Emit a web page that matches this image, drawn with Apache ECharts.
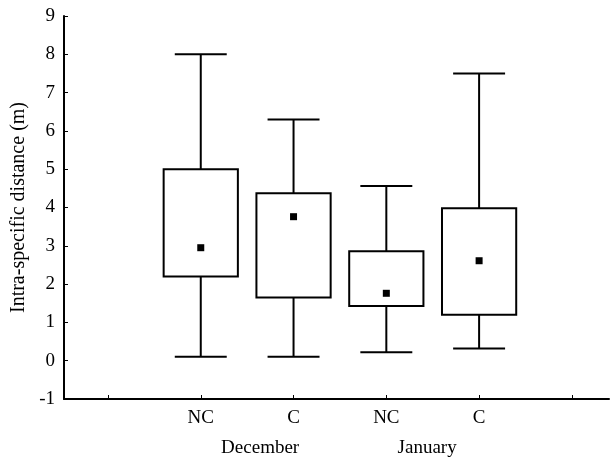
<!DOCTYPE html>
<html>
<head>
    <meta charset="utf-8">
    <title>Intra-specific distance</title>
    <script src="https://cdn.jsdelivr.net/npm/echarts@6/dist/echarts.min.js"></script>
    <style>
        html, body { margin: 0; padding: 0; background: #fff; }
        #chart { width: 611px; height: 464px; }
    </style>
</head>
<body>
<div id="chart"></div>
<script>
    // groups, left to right
    var groups = ['NC', 'C', 'NC', 'C'];
    var groupPos = [2, 3, 4, 5];
    var months = ['December', 'January'];
    var monthPos = [2.64, 4.44];
    var yTicks = [-1, 0, 1, 2, 3, 4, 5, 6, 7, 8, 9];

    // box values
    var whiskerLow = [0.1, 0.1, 0.22, 0.32];
    var boxLow = [2.2, 1.65, 1.43, 1.2];
    var boxHigh = [5.0, 4.37, 2.86, 3.98];
    var whiskerHigh = [8.0, 6.3, 4.56, 7.5];
    var means = [2.95, 3.76, 1.76, 2.61];

    var font = '"Liberation Serif", "Times New Roman", serif';

    var boxData = groupPos.map(function (x, i) {
        return [x, whiskerLow[i], boxLow[i], boxHigh[i], whiskerHigh[i]];
    });
    var meanData = groupPos.map(function (x, i) {
        return [x, means[i]];
    });

    function renderBox(params, api) {
        var x = api.value(0);
        var pLow = api.coord([x, api.value(1)]);
        var pQ1 = api.coord([x, api.value(2)]);
        var pQ3 = api.coord([x, api.value(3)]);
        var pHigh = api.coord([x, api.value(4)]);
        var unit = api.size([1, 0])[0];
        var bw = unit * 0.4;
        var cw = unit * 0.28;
        var st = { stroke: '#000', lineWidth: 2, fill: null };
        return {
            type: 'group',
            children: [
                { type: 'line', shape: { x1: pHigh[0], y1: pHigh[1], x2: pQ3[0], y2: pQ3[1] }, style: st },
                { type: 'line', shape: { x1: pQ1[0], y1: pQ1[1], x2: pLow[0], y2: pLow[1] }, style: st },
                { type: 'line', shape: { x1: pHigh[0] - cw, y1: pHigh[1], x2: pHigh[0] + cw, y2: pHigh[1] }, style: st },
                { type: 'line', shape: { x1: pLow[0] - cw, y1: pLow[1], x2: pLow[0] + cw, y2: pLow[1] }, style: st },
                { type: 'rect', shape: { x: pQ3[0] - bw, y: pQ3[1], width: bw * 2, height: pQ1[1] - pQ3[1] },
                  style: { stroke: '#000', lineWidth: 2, fill: '#fff' } }
            ]
        };
    }

    var chart = echarts.init(document.getElementById('chart'));
    chart.setOption({
        animation: false,
        grid: { left: 64, right: 2, top: 16, bottom: 65, containLabel: false, outerBoundsMode: 'none' },
        xAxis: [
            {
                type: 'value', min: 0.526, max: 6.4,
                splitLine: { show: false },
                axisLine: { onZero: false, lineStyle: { color: '#000', width: 2 } },
                axisTick: { inside: true, length: 4, customValues: [1, 2, 3, 4, 5, 6], lineStyle: { color: '#000' } },
                axisLabel: {
                    customValues: groupPos,
                    formatter: function (v) { return groups[groupPos.indexOf(v)]; },
                    color: '#000', fontFamily: font, fontSize: 19, margin: 10
                }
            },
            {
                type: 'value', min: 0.526, max: 6.4, position: 'bottom', offset: 30,
                splitLine: { show: false },
                axisLine: { show: false, onZero: false },
                axisTick: { show: false },
                axisLabel: {
                    customValues: monthPos,
                    formatter: function (v) { return months[monthPos.indexOf(v)]; },
                    color: '#000', fontFamily: font, fontSize: 19, margin: 10
                }
            }
        ],
        yAxis: {
            type: 'value', min: yTicks[0], max: yTicks[yTicks.length - 1], interval: 1,
            name: 'Intra-specific distance (m)',
            nameLocation: 'middle', nameRotate: 90, nameGap: 34,
            nameTextStyle: { color: '#000', fontFamily: font, fontSize: 20 },
            splitLine: { show: false },
            axisLine: { show: true, lineStyle: { color: '#000', width: 2 } },
            axisTick: { show: true, inside: true, length: 4, lineStyle: { color: '#000' } },
            axisLabel: { color: '#000', fontFamily: font, fontSize: 19, margin: 9 }
        },
        series: [
            {
                type: 'custom',
                renderItem: renderBox,
                data: boxData,
                encode: { x: 0, y: [1, 2, 3, 4] },
                z: 2
            },
            {
                type: 'scatter',
                data: meanData,
                symbol: 'rect',
                symbolSize: 7,
                itemStyle: { color: '#000', opacity: 1 },
                z: 3
            }
        ]
    });
</script>
</body>
</html>
